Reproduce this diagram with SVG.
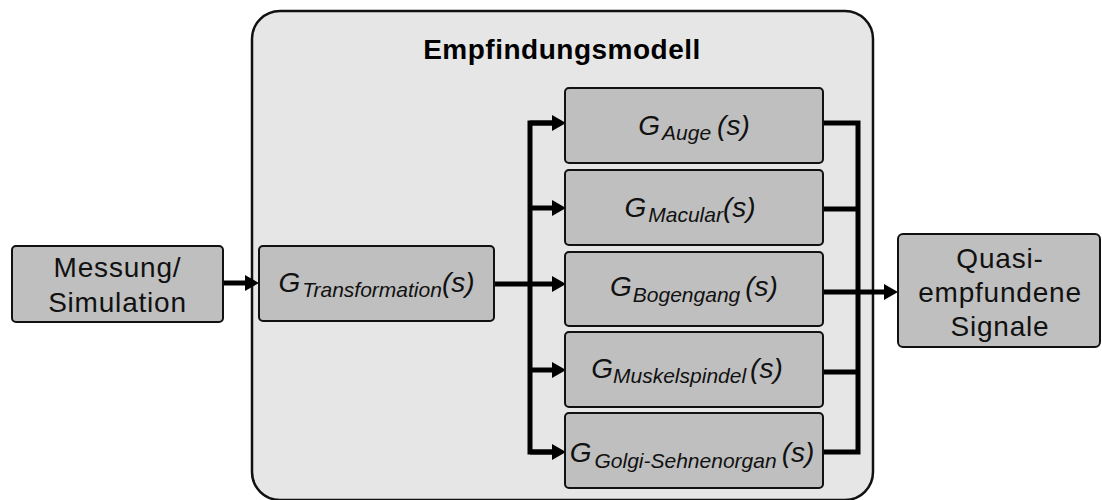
<svg xmlns="http://www.w3.org/2000/svg" width="1102" height="500" viewBox="0 0 1102 500">
  <defs>
    <style>
      .frame { fill: #e6e6e6; stroke: #111; stroke-width: 2.5; }
      .box { fill: #bfbfbf; stroke: #111; stroke-width: 2; }
      .plain { font-family: "Liberation Sans", Arial, sans-serif; font-size: 28px; fill: #111; letter-spacing: 0.8px; }
      .title { font-family: "Liberation Sans", Arial, sans-serif; font-size: 28px; font-weight: bold; fill: #000; letter-spacing: 0.5px; }
      .lbl { font-family: "Liberation Sans", Arial, sans-serif; font-style: italic; fill: #111; }
      .g { font-size: 28px; }
      .sub { font-size: 21px; }
      .s { font-size: 28px; }
      .wire { fill: none; stroke: #000; stroke-width: 5; stroke-linejoin: miter; }
    </style>
    <marker id="head" markerUnits="userSpaceOnUse" markerWidth="14" markerHeight="16" refX="0" refY="8" orient="auto">
      <path d="M0,0 L14,8 L0,16 Z" fill="#000"/>
    </marker>
  </defs>

  <!-- enclosing model frame -->
  <g id="empfindungsmodell">
    <rect class="frame" x="252" y="11" width="621" height="489" rx="28" ry="28"/>
    <text class="title" x="562" y="59" text-anchor="middle">Empfindungsmodell</text>
  </g>

  <!-- connectors -->
  <g id="connectors">
    <path class="wire" d="M223,283 H245" marker-end="url(#head)"/>
    <path class="wire" d="M494,284 H552" marker-end="url(#head)"/>
    <path class="wire" d="M552,123 H530 V452 H552"/>
    <path class="wire" d="M530,123 H552" marker-end="url(#head)"/>
    <path class="wire" d="M530,208 H552" marker-end="url(#head)"/>
    <path class="wire" d="M530,370 H552" marker-end="url(#head)"/>
    <path class="wire" d="M530,452 H552" marker-end="url(#head)"/>
    <path class="wire" d="M823,123 H858 V452 H823"/>
    <path class="wire" d="M823,209 H858"/>
    <path class="wire" d="M823,372 H858"/>
    <path class="wire" d="M823,292 H884" marker-end="url(#head)"/>
  </g>

  <g id="messung">
    <rect class="box" x="12" y="246" width="211" height="76" rx="4"/>
    <text class="plain" x="117.5" y="277" text-anchor="middle">Messung/</text>
    <text class="plain" x="117.5" y="312" text-anchor="middle">Simulation</text>
  </g>

  <g id="transformation">
    <rect class="box" x="259" y="246" width="235" height="75" rx="4"/>
    <text class="lbl" x="376.5" y="292" text-anchor="middle"><tspan class="g">G</tspan><tspan class="sub" dx="2" dy="5">Transformation</tspan><tspan class="s" dy="-5">(s)</tspan></text>
  </g>

  <g id="auge">
    <rect class="box" x="565" y="88" width="258" height="75" rx="4"/>
    <text class="lbl" x="694" y="135" text-anchor="middle"><tspan class="g">G</tspan><tspan class="sub" dx="2" dy="5">Auge</tspan><tspan class="s" dx="6" dy="-5">(s)</tspan></text>
  </g>

  <g id="macular">
    <rect class="box" x="565" y="170" width="258" height="75" rx="4"/>
    <text class="lbl" x="690" y="217" text-anchor="middle"><tspan class="g">G</tspan><tspan class="sub" dx="2" dy="5">Macular</tspan><tspan class="s" dy="-5">(s)</tspan></text>
  </g>

  <g id="bogengang">
    <rect class="box" x="565" y="252" width="258" height="74" rx="4"/>
    <text class="lbl" x="694" y="296" text-anchor="middle"><tspan class="g">G</tspan><tspan class="sub" dx="1" dy="6">Bogengang</tspan><tspan class="s" dx="5" dy="-6">(s)</tspan></text>
  </g>

  <g id="muskelspindel">
    <rect class="box" x="565" y="332" width="258" height="75" rx="4"/>
    <text class="lbl" x="687" y="378" text-anchor="middle"><tspan class="g">G</tspan><tspan class="sub" dx="0" dy="5">Muskelspindel</tspan><tspan class="s" dx="4" dy="-5">(s)</tspan></text>
  </g>

  <g id="golgi">
    <rect class="box" x="565" y="413" width="258" height="75" rx="4"/>
    <text class="lbl" x="692" y="462" text-anchor="middle"><tspan class="g">G</tspan><tspan class="sub" dx="3" dy="6">Golgi-Sehnenorgan</tspan><tspan class="s" dx="5" dy="-6">(s)</tspan></text>
  </g>

  <g id="quasi">
    <rect class="box" x="898" y="234" width="202" height="113" rx="5"/>
    <text class="plain" x="1000" y="268" text-anchor="middle">Quasi-</text>
    <text class="plain" x="1000" y="302" text-anchor="middle">empfundene</text>
    <text class="plain" x="1000" y="336" text-anchor="middle">Signale</text>
  </g>
</svg>
